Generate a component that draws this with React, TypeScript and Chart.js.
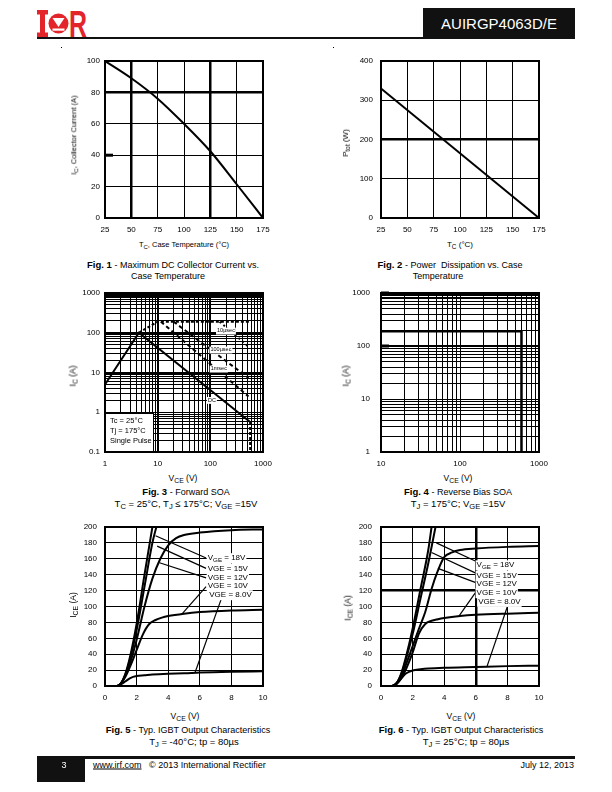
import React, { useEffect, useRef } from "react";
import { Chart, registerables } from "chart.js";
Chart.register(...registerables);

const FONT = "'Liberation Sans', Arial, Helvetica, sans-serif";

// ---------- Fig. 1 : Maximum DC collector current vs case temperature ----------
const fig1Tc = [25, 50, 75, 100, 125, 150, 175];
const fig1Ic = [100, 89, 76, 60, 42.5, 21.5, 0];
const fig1XTicks = [25, 50, 75, 100, 125, 150, 175];
const fig1YTicks = [0, 20, 40, 60, 80, 100];

// ---------- Fig. 2 : Power dissipation vs case temperature ----------
const fig2Tc = [25, 175];
const fig2Ptot = [330, 0];
const fig2XTicks = [25, 50, 75, 100, 125, 150, 175];
const fig2YTicks = [0, 100, 200, 300, 400];

// ---------- Fig. 3 : Forward SOA ----------
const fig3DcV = [1, 4.4, 570];
const fig3DcI = [5, 100, 0.57];
const fig3DcEdgeV = [570, 570];
const fig3DcEdgeI = [0.57, 0.1];
const fig3EnvV = [4.4, 10, 560];
const fig3EnvI = [100, 190, 190];
const fig3T10usV = [150, 560];
const fig3T10usI = [190, 42];
const fig3T100usV = [20, 530];
const fig3T100usI = [190, 7.3];
const fig3T1msV = [11.5, 530];
const fig3T1msI = [190, 2.5];
const fig3XMajor = [1, 10, 100, 1000];
const fig3YMajor = [0.1, 1, 10, 100, 1000];

// ---------- Fig. 4 : Reverse bias SOA ----------
const fig4V = [10, 600, 600];
const fig4I = [190, 190, 1];
const fig4XMajor = [10, 100, 1000];
const fig4YMajor = [1, 10, 100, 1000];

// ---------- Fig. 5 : Output characteristics, TJ = -40 C ----------
const fig5V8 = [0, 0.75, 1.0, 1.3, 1.6, 2.0, 2.5, 3, 4, 5, 6, 8, 10];
const fig5I8 = [0, 0, 2, 6, 10, 12.5, 13.5, 14.5, 15.5, 16, 17, 18, 18.5];
const fig5V10 = [0, 0.75, 1.0, 1.3, 1.6, 2.0, 2.4, 2.8, 3.2, 3.6, 4, 5, 6, 8, 10];
const fig5I10 = [0, 0, 3, 12, 25, 45, 65, 78, 83, 86, 88, 91, 93, 95, 96];
const fig5V12 = [0, 0.75, 1.0, 1.3, 1.6, 2.0, 2.5, 3, 3.5, 4, 4.5, 5, 6, 8, 10];
const fig5I12 = [0, 0, 3, 14, 30, 58, 100, 135, 160, 177, 186, 190, 193, 196, 197];
const fig5V15 = [0, 0.75, 1.0, 1.3, 1.6, 2.0, 2.5, 3.0, 3.25];
const fig5I15 = [0, 0, 3, 15, 35, 70, 125, 180, 200];
const fig5V18 = [0, 0.75, 1.0, 1.3, 1.6, 2.0, 2.5, 3.0];
const fig5I18 = [0, 0, 3, 16, 38, 78, 140, 200];

// ---------- Fig. 6 : Output characteristics, TJ = 25 C ----------
const fig6V8 = [0, 0.7, 1.0, 1.3, 1.6, 2, 2.5, 3, 4, 6, 8, 10];
const fig6I8 = [0, 0, 3, 10, 16, 19.5, 21, 22, 23, 24, 25, 25.5];
const fig6V10 = [0, 0.7, 1, 1.3, 1.6, 2, 2.4, 2.8, 3.2, 3.6, 4, 5, 6, 8, 10];
const fig6I10 = [0, 0, 3, 10, 22, 42, 66, 78, 82, 84, 85.5, 88, 89.5, 91, 92];
const fig6V12 = [0, 0.7, 1.0, 1.3, 1.6, 2, 2.4, 2.8, 3.2, 3.6, 4, 4.5, 5, 6, 8, 10];
const fig6I12 = [0, 0, 4, 13, 28, 50, 72, 93, 122, 145, 162, 168, 171, 173, 175, 176];
const fig6V15 = [0, 0.7, 1.0, 1.3, 1.6, 2, 2.5, 3, 3.45];
const fig6I15 = [0, 0, 4, 16, 35, 65, 110, 155, 200];
const fig6V18 = [0, 0.7, 1.0, 1.3, 1.6, 2, 2.5, 3, 3.2];
const fig6I18 = [0, 0, 4, 17, 38, 72, 122, 172, 200];

const outXTicks = [0, 2, 4, 6, 8, 10];
const outYTicks = [0, 20, 40, 60, 80, 100, 120, 140, 160, 180, 200];

// leader lines [fromV, toV], [fromI, toI]
const fig5Leaders = [
  { v: [6.4, 3.2], i: [161, 189] },
  { v: [6.4, 3.3], i: [148, 176] },
  { v: [6.4, 3.45], i: [136, 155] },
  { v: [6.4, 4.85], i: [125, 90] },
  { v: [7.35, 5.7], i: [109, 17] },
];
const fig6Leaders = [
  { v: [6.0, 3.5], i: [157, 180] },
  { v: [6.0, 3.2], i: [142, 168] },
  { v: [6.0, 3.6], i: [130, 148] },
  { v: [6.0, 4.9], i: [118, 87] },
  { v: [8.0, 6.7], i: [100, 24] },
];
const vgeLabels = ["18V", "15V", "12V", "10V", "8.0V"];
const fig5LabelPos = [
  { v: 6.5, i: 161 },
  { v: 6.5, i: 148 },
  { v: 6.5, i: 136.5 },
  { v: 6.5, i: 125.5 },
  { v: 6.6, i: 114.5 },
];
const fig6LabelPos = [
  { v: 6.05, i: 152 },
  { v: 6.05, i: 139 },
  { v: 6.05, i: 128 },
  { v: 6.05, i: 117 },
  { v: 6.15, i: 106 },
];
const fig3Labels = [
  { t: "10µsec", v: 198, i: 111 },
  { t: "100µsec", v: 159, i: 37 },
  { t: "1msec", v: 145, i: 12.3 },
  { t: "DC", v: 107, i: 2.0 },
];
// short heavy marks on the left frame (scan artefacts)
const fig1Stubs = [40];
const fig4Stubs = [100, 1000];

// ---------------- helpers ----------------
function logTicks(lo: number, hi: number) {
  const out: number[] = [];
  for (let e = Math.round(Math.log10(lo)); Math.pow(10, e) < hi - 1e-9; e++) {
    for (let m = 1; m < 10; m++) out.push(+(m * Math.pow(10, e)).toPrecision(3));
  }
  out.push(hi);
  return out;
}

const pts = (xs: number[], ys: number[]) => xs.map((x, k) => ({ x, y: ys[k] }));
const line = (xs: number[], ys: number[], extra: any = {}) => ({
  data: pts(xs, ys),
  borderColor: "#000",
  borderWidth: 2,
  pointRadius: 0,
  fill: false,
  ...extra,
});

function scale(opts: {
  type: "linear" | "logarithmic";
  min: number;
  max: number;
  ticks: number[];
  labels: number[];
  thick: number[];
  pad: number;
  axis: "x" | "y";
  thickW?: number;
}) {
  return {
    type: opts.type,
    min: opts.min,
    max: opts.max,
    afterBuildTicks: (s: any) => {
      s.ticks = opts.ticks.map((v) => ({ value: v }));
    },
    ticks: {
      color: "#000",
      font: { family: FONT, size: 8 },
      padding: opts.pad,
      autoSkip: false,
      maxRotation: 0,
      minRotation: 0,
      callback: (v: any) => (opts.labels.some((l) => Math.abs(l - v) < 1e-9) ? String(v) : ""),
    },
    grid: {
      color: "#000",
      lineWidth: (c: any) =>
        c.tick && opts.thick.some((t) => Math.abs(t - c.tick.value) < 1e-9) ? opts.thickW || 2.5 : 1,
      drawTicks: false,
    },
    border: { display: false },
    afterFit: (s: any) => {
      if (opts.axis === "x") s.height = 20;
      else s.width = 35;
      s.paddingTop = 0;
      s.paddingBottom = 0;
      s.paddingLeft = 0;
      s.paddingRight = 0;
    },
  };
}

const framePlugin = {
  id: "frame",
  beforeDatasetsDraw(chart: any) {
    const { left, top, right, bottom } = chart.chartArea;
    const ctx = chart.ctx;
    ctx.save();
    ctx.lineWidth = 2;
    ctx.strokeStyle = "#000";
    ctx.strokeRect(left, top, right - left, bottom - top);
    ctx.restore();
  },
};

function stubPlugin(vals: number[]) {
  return {
    id: "stubs",
    beforeDatasetsDraw(chart: any) {
      const ctx = chart.ctx;
      const { left } = chart.chartArea;
      ctx.save();
      ctx.fillStyle = "#000";
      vals.forEach((v) => {
        const py = chart.scales.y.getPixelForValue(v);
        ctx.fillRect(left, py - 1.5, 8, 3);
      });
      ctx.restore();
    },
  };
}

type Part = [string, boolean];
function drawRich(ctx: any, parts: Part[], x: number, y: number, size: number, align: "left" | "center", bg: boolean) {
  const widths = parts.map(([t, s]) => {
    ctx.font = `${s ? size * 0.78 : size}px ${FONT}`;
    return ctx.measureText(t).width;
  });
  const total = widths.reduce((a, b) => a + b, 0);
  let sx = align === "center" ? x - total / 2 : x;
  if (bg) {
    ctx.fillStyle = "#fff";
    ctx.fillRect(sx - 1, y - size * 0.6, total + 2, size * 1.25);
  }
  ctx.fillStyle = "#000";
  ctx.textBaseline = "middle";
  ctx.textAlign = "left";
  parts.forEach(([t, s], k) => {
    ctx.font = `${s ? size * 0.78 : size}px ${FONT}`;
    ctx.fillText(t, sx, s ? y + size * 0.3 : y);
    sx += widths[k];
  });
}

function vgePlugin(pos: { v: number; i: number }[]) {
  return {
    id: "vge",
    afterDatasetsDraw(chart: any) {
      const ctx = chart.ctx;
      const xs = chart.scales.x;
      const ys = chart.scales.y;
      ctx.save();
      pos.forEach((p, k) => {
        const px = xs.getPixelForValue(p.v);
        const py = ys.getPixelForValue(p.i);
        const parts: Part[] =
          k === 0
            ? [["V", false], ["GE", true], [" = " + vgeLabels[k], false]]
            : [["VGE = " + vgeLabels[k], false]];
        drawRich(ctx, parts, px, py, 8, "left", true);
      });
      ctx.restore();
    },
  };
}

const fig3Plugin = {
  id: "fig3",
  afterDatasetsDraw(chart: any) {
    const ctx = chart.ctx;
    const xs = chart.scales.x;
    const ys = chart.scales.y;
    const { left, bottom } = chart.chartArea;
    ctx.save();
    fig3Labels.forEach((l) => {
      drawRich(ctx, [[l.t, false]], xs.getPixelForValue(l.v), ys.getPixelForValue(l.i), 5.5, "center", true);
    });
    ctx.fillStyle = "#fff";
    ctx.fillRect(left + 1, bottom - 38, 48, 37);
    ctx.strokeStyle = "#000";
    ctx.lineWidth = 1;
    ctx.strokeRect(left + 0.5, bottom - 38.5, 48, 38);
    drawRich(ctx, [["Tc = 25°C", false]], left + 5, bottom - 31, 7.5, "left", false);
    drawRich(ctx, [["Tj = 175°C", false]], left + 5, bottom - 21, 7.5, "left", false);
    drawRich(ctx, [["Single Pulse", false]], left + 5, bottom - 11, 7.5, "left", false);
    ctx.restore();
  },
};

function makeConfig(datasets: any[], x: any, y: any, plugins: any[] = []) {
  return {
    type: "line",
    data: { datasets },
    options: {
      animation: false,
      responsive: false,
      maintainAspectRatio: false,
      events: [],
      layout: { autoPadding: false, padding: { top: 8, right: 12, left: 0, bottom: 0 } },
      plugins: { legend: { display: false }, tooltip: { enabled: false }, title: { display: false } },
      scales: { x, y },
    },
    plugins: [framePlugin, ...plugins],
  } as any;
}

// ---------------- chart configs ----------------
const build1 = () =>
  makeConfig(
    [line(fig1Tc, fig1Ic, { cubicInterpolationMode: "monotone" })],
    scale({ type: "linear", min: 25, max: 175, ticks: fig1XTicks, labels: fig1XTicks, thick: [50, 125], pad: 7, axis: "x" }),
    scale({ type: "linear", min: 0, max: 100, ticks: fig1YTicks, labels: fig1YTicks, thick: [80], pad: 5, axis: "y" }),
    [stubPlugin(fig1Stubs)]
  );

const build2 = () =>
  makeConfig(
    [line(fig2Tc, fig2Ptot)],
    scale({ type: "linear", min: 25, max: 175, ticks: fig2XTicks, labels: fig2XTicks, thick: [], pad: 7, axis: "x" }),
    scale({ type: "linear", min: 0, max: 400, ticks: fig2YTicks, labels: fig2YTicks, thick: [200], pad: 8, axis: "y" })
  );

const build3 = () =>
  makeConfig(
    [
      line(fig3DcV, fig3DcI),
      line(fig3DcEdgeV, fig3DcEdgeI, { borderDash: [3, 2] }),
      line(fig3EnvV, fig3EnvI, { borderDash: [3, 2] }),
      line(fig3T10usV, fig3T10usI, { borderDash: [2, 3] }),
      line(fig3T100usV, fig3T100usI, { borderDash: [4, 3] }),
      line(fig3T1msV, fig3T1msI, { borderDash: [4, 3] }),
    ],
    scale({ type: "logarithmic", min: 1, max: 1000, ticks: logTicks(1, 1000), labels: fig3XMajor, thick: [10, 100], thickW: 2, pad: 7, axis: "x" }),
    scale({ type: "logarithmic", min: 0.1, max: 1000, ticks: logTicks(0.1, 1000), labels: fig3YMajor, thick: [10, 100, 800, 900], thickW: 2, pad: 5, axis: "y" }),
    [fig3Plugin]
  );

const build4 = () =>
  makeConfig(
    [line(fig4V, fig4I, { borderWidth: 2.5 })],
    scale({ type: "logarithmic", min: 10, max: 1000, ticks: logTicks(10, 1000), labels: fig4XMajor, thick: [], pad: 7, axis: "x" }),
    scale({ type: "logarithmic", min: 1, max: 1000, ticks: logTicks(1, 1000), labels: fig4YMajor, thick: [100, 800, 900], thickW: 2, pad: 11, axis: "y" }),
    [stubPlugin(fig4Stubs)]
  );

const leaderSets = (ls: { v: number[]; i: number[] }[]) => ls.map((l) => line(l.v, l.i, { borderWidth: 1.2 }));

const build5 = () =>
  makeConfig(
    [
      line(fig5V8, fig5I8, { cubicInterpolationMode: "monotone" }),
      line(fig5V10, fig5I10, { cubicInterpolationMode: "monotone" }),
      line(fig5V12, fig5I12, { cubicInterpolationMode: "monotone" }),
      line(fig5V15, fig5I15, { cubicInterpolationMode: "monotone" }),
      line(fig5V18, fig5I18, { cubicInterpolationMode: "monotone" }),
      ...leaderSets(fig5Leaders),
    ],
    scale({ type: "linear", min: 0, max: 10, ticks: outXTicks, labels: outXTicks, thick: [], pad: 7, axis: "x" }),
    scale({ type: "linear", min: 0, max: 200, ticks: outYTicks, labels: outYTicks, thick: [], pad: 8, axis: "y" }),
    [vgePlugin(fig5LabelPos)]
  );

const build6 = () =>
  makeConfig(
    [
      line(fig6V8, fig6I8, { cubicInterpolationMode: "monotone" }),
      line(fig6V10, fig6I10, { cubicInterpolationMode: "monotone" }),
      line(fig6V12, fig6I12, { cubicInterpolationMode: "monotone" }),
      line(fig6V15, fig6I15, { cubicInterpolationMode: "monotone" }),
      line(fig6V18, fig6I18, { cubicInterpolationMode: "monotone" }),
      ...leaderSets(fig6Leaders),
    ],
    scale({ type: "linear", min: 0, max: 10, ticks: outXTicks, labels: outXTicks, thick: [6], pad: 7, axis: "x" }),
    scale({ type: "linear", min: 0, max: 200, ticks: outYTicks, labels: outYTicks, thick: [120], pad: 9, axis: "y" }),
    [vgePlugin(fig6LabelPos)]
  );

// ---------------- components ----------------
function Panel({ plot, build }: { plot: [number, number, number, number]; build: () => any }) {
  const ref = useRef<HTMLCanvasElement>(null);
  const [l, t, r, b] = plot;
  const left = l - 35;
  const top = t - 8;
  const width = r - l + 35 + 12;
  const height = b - t + 8 + 20;
  useEffect(() => {
    const chart = new Chart(ref.current as HTMLCanvasElement, build());
    return () => chart.destroy();
  }, []);
  return (
    <div style={{ position: "absolute", left, top, width, height }}>
      <canvas ref={ref} width={width} height={height} style={{ width, height, display: "block" }} />
    </div>
  );
}

const Sub = ({ children }: { children: any }) => (
  <span style={{ fontSize: "0.8em", position: "relative", top: "0.3em" }}>{children}</span>
);

function Txt({ x, y, size = 9, children, anchor = "center", color = "#000" }: any) {
  const tx = anchor === "center" ? "-50%" : anchor === "right" ? "-100%" : "0";
  return (
    <div
      style={{
        position: "absolute",
        left: x,
        top: y,
        transform: `translate(${tx},-50%)`,
        whiteSpace: "nowrap",
        fontFamily: FONT,
        fontSize: size,
        lineHeight: 1,
        color,
      }}
    >
      {children}
    </div>
  );
}

function RotTxt({ x, y, size = 8, children }: any) {
  return (
    <div
      style={{
        position: "absolute",
        left: x,
        top: y,
        transform: "translate(-50%,-50%) rotate(-90deg)",
        whiteSpace: "nowrap",
        fontFamily: FONT,
        fontSize: size,
        lineHeight: 1,
        color: "#000",
      }}
    >
      {children}
    </div>
  );
}

const Fig = ({ n }: { n: number }) => <b style={{ fontSize: 9.5 }}>Fig. {n}</b>;

export default function App() {
  return (
    <div style={{ position: "absolute", left: 0, top: 0, width: 612, height: 792, background: "#fff", fontFamily: FONT }}>
      {/* header */}
      <svg style={{ position: "absolute", left: 37, top: 10 }} width={50} height={27} viewBox="0 0 50 27">
        <rect x="0" y="0" width="11" height="4.5" fill="#e4242b" />
        <rect x="3" y="0" width="5" height="27" fill="#e4242b" />
        <rect x="0" y="22.5" width="11" height="4.5" fill="#e4242b" />
        <circle cx="21.5" cy="13.5" r="10" fill="#e4242b" />
        <polygon points="15.5,8 27.5,8 21.5,17" fill="#fff" />
        <rect x="15.5" y="18.5" width="12" height="2.2" fill="#fff" />
        <text x="32" y="27" fontFamily={FONT} fontWeight="bold" fontSize="36" fill="#e4242b" textLength="18" lengthAdjust="spacingAndGlyphs">R</text>
      </svg>
      <div style={{ position: "absolute", left: 423, top: 8, width: 152, height: 29, background: "#111" }} />
      <Txt x={499} y={23} size={15} color="#fff">AUIRGP4063D/E</Txt>
      <div style={{ position: "absolute", left: 37, top: 37, width: 538, height: 2, background: "#111" }} />
      <div style={{ position: "absolute", left: 61, top: 47, width: 1, height: 1, background: "#000" }} />
      <div style={{ position: "absolute", left: 333, top: 47, width: 1, height: 1, background: "#000" }} />

      {/* Fig 1 */}
      <Panel plot={[105, 61, 263, 218]} build={build1} />
      <RotTxt x={74} y={135} size={7.5}>I<Sub>C</Sub>, Collector Current (A)</RotTxt>
      <Txt x={184} y={245} size={7.5}>T<Sub>C</Sub>, Case Temperature (°C)</Txt>
      <Txt x={173} y={265} size={9}><Fig n={1} /> - Maximum DC Collector Current vs.</Txt>
      <Txt x={168} y={276} size={9}>Case Temperature</Txt>

      {/* Fig 2 */}
      <Panel plot={[381, 61, 539, 218]} build={build2} />
      <RotTxt x={346} y={143} size={8}>P<Sub>tot</Sub> (W)</RotTxt>
      <Txt x={460} y={245} size={8}>T<Sub>C</Sub> (°C)</Txt>
      <Txt x={450} y={265} size={9}><Fig n={2} /> - Power&nbsp; Dissipation vs. Case</Txt>
      <Txt x={438} y={276} size={9}>Temperature</Txt>

      {/* Fig 3 */}
      <Panel plot={[105, 293, 263, 452]} build={build3} />
      <RotTxt x={73} y={376} size={8.5}>I<Sub>C</Sub> (A)</RotTxt>
      <Txt x={183} y={478} size={8.5}>V<Sub>CE</Sub> (V)</Txt>
      <Txt x={186} y={492} size={9}><Fig n={3} /> - Forward SOA</Txt>
      <Txt x={186} y={504} size={9.5}>T<Sub>C</Sub> = 25°C, T<Sub>J</Sub> ≤ 175°C; V<Sub>GE</Sub> =15V</Txt>

      {/* Fig 4 */}
      <Panel plot={[381, 293, 539, 452]} build={build4} />
      <RotTxt x={346} y={376} size={8.5}>I<Sub>C</Sub> (A)</RotTxt>
      <Txt x={458} y={478} size={8.5}>V<Sub>CE</Sub> (V)</Txt>
      <Txt x={458} y={492} size={9}><Fig n={4} /> - Reverse Bias SOA</Txt>
      <Txt x={458} y={504} size={9.5}>T<Sub>J</Sub> = 175°C; V<Sub>GE</Sub> =15V</Txt>

      {/* Fig 5 */}
      <Panel plot={[105, 527, 263, 686]} build={build5} />
      <RotTxt x={73} y={605} size={8.5}>I<Sub>CE</Sub> (A)</RotTxt>
      <Txt x={185} y={716} size={8.5}>V<Sub>CE</Sub> (V)</Txt>
      <Txt x={188} y={730} size={9}><Fig n={5} /> - Typ. IGBT Output Characteristics</Txt>
      <Txt x={194} y={742} size={9.5}>T<Sub>J</Sub> = -40°C; tp = 80µs</Txt>

      {/* Fig 6 */}
      <Panel plot={[381, 527, 539, 686]} build={build6} />
      <RotTxt x={348} y={608} size={8.5}>I<Sub>CE</Sub> (A)</RotTxt>
      <Txt x={461} y={716} size={8.5}>V<Sub>CE</Sub> (V)</Txt>
      <Txt x={461} y={730} size={9}><Fig n={6} /> - Typ. IGBT Output Characteristics</Txt>
      <Txt x={466} y={742} size={9.5}>T<Sub>J</Sub> = 25°C; tp = 80µs</Txt>

      {/* footer */}
      <div style={{ position: "absolute", left: 37, top: 756, width: 538, height: 2.5, background: "#111" }} />
      <div style={{ position: "absolute", left: 37, top: 756, width: 48, height: 26, background: "#111" }} />
      <Txt x={64} y={765} size={9} color="#fff">3</Txt>
      <Txt x={93} y={765} size={9} anchor="left">
        <span style={{ textDecoration: "underline" }}>www.irf.com</span>
      </Txt>
      <Txt x={149} y={765} size={9} anchor="left">© 2013 International Rectifier</Txt>
      <Txt x={574} y={765} size={9} anchor="right">July 12, 2013</Txt>
    </div>
  );
}
